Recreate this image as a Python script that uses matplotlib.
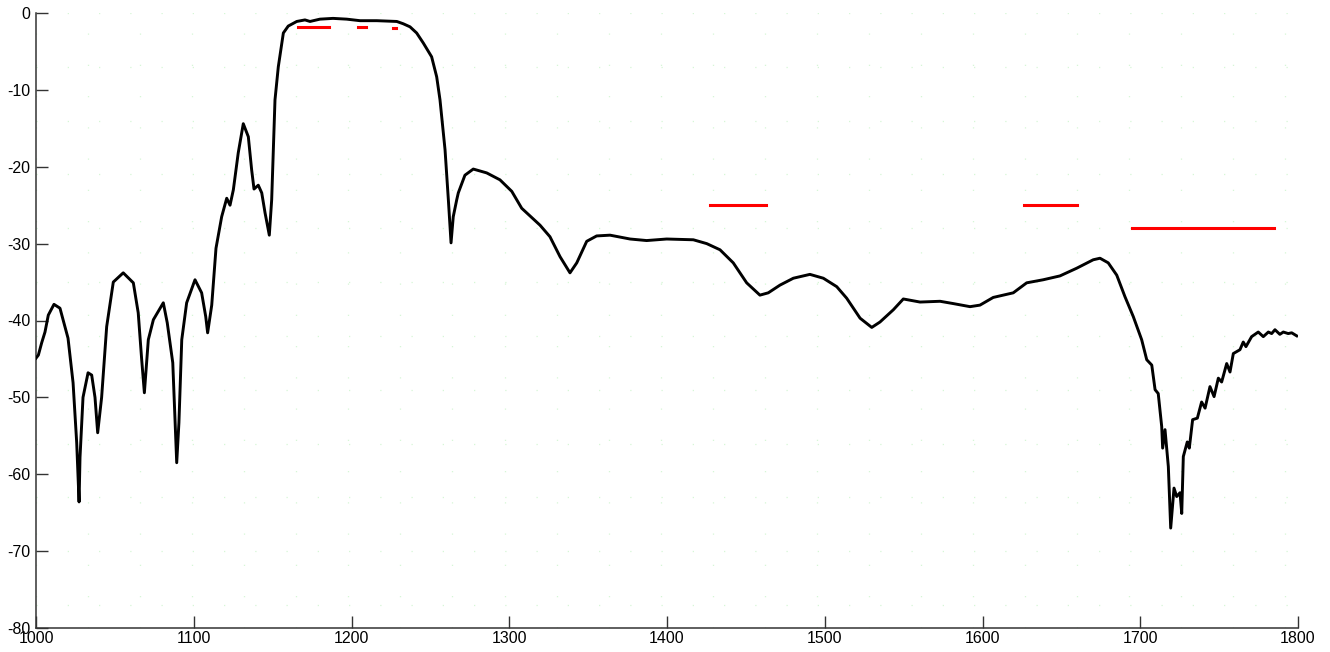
import matplotlib
matplotlib.use('Agg')
import matplotlib.pyplot as plt

freq = [1000.0, 1001.5, 1003.6, 1005.7, 1007.8, 1011.4, 1015.2, 1020.3, 1023.5, 1025.8,
        1027.3, 1027.9, 1029.8, 1033.0, 1035.3, 1037.4, 1039.1, 1041.6, 1044.8, 1049.0,
        1055.3, 1061.7, 1064.8, 1067.0, 1068.7, 1071.2, 1074.4, 1080.7, 1083.2, 1086.7,
        1089.2, 1090.6, 1092.4, 1095.5, 1100.8, 1105.0, 1107.6, 1108.8, 1111.4, 1114.1,
        1117.7, 1120.9, 1123.0, 1125.1, 1128.2, 1131.4, 1134.6, 1136.7, 1138.2, 1140.9,
        1143.1, 1145.2, 1147.9, 1149.4, 1151.5, 1153.6, 1156.8, 1159.9, 1165.3, 1170.5,
        1173.7, 1180.0, 1188.3, 1197.0, 1205.4, 1216.0, 1228.7, 1232.8, 1237.1, 1241.3,
        1245.5, 1250.8, 1254.0, 1256.1, 1259.3, 1261.4, 1263.1, 1264.5, 1266.7, 1267.7,
        1271.9, 1277.2, 1285.7, 1294.1, 1301.6, 1307.9, 1319.5, 1325.8, 1332.2, 1338.5,
        1342.8, 1349.1, 1355.4, 1363.9, 1376.6, 1387.1, 1399.8, 1416.7, 1425.2, 1433.6,
        1442.0, 1450.5, 1458.9, 1464.2, 1471.6, 1480.1, 1490.6, 1499.1, 1507.6, 1513.9,
        1522.4, 1529.8, 1535.0, 1543.5, 1549.8, 1560.4, 1573.1, 1581.5, 1592.1, 1598.4,
        1606.8, 1619.5, 1628.0, 1638.5, 1649.1, 1659.7, 1670.2, 1674.5, 1679.7, 1685.1,
        1690.3, 1695.6, 1700.9, 1704.1, 1707.3, 1709.4, 1711.4, 1713.6, 1714.2, 1715.7,
        1717.8, 1719.3, 1721.4, 1723.1, 1725.2, 1726.3, 1727.3, 1729.8, 1731.1, 1733.2,
        1736.2, 1738.9, 1741.1, 1744.2, 1746.8, 1749.5, 1751.6, 1754.8, 1756.9, 1759.0,
        1763.2, 1765.3, 1767.0, 1770.6, 1774.8, 1778.0, 1781.2, 1783.3, 1785.4, 1788.5,
        1790.7, 1793.8, 1796.0, 1799.2]
level = [-44.9, -44.5, -42.9, -41.5, -39.3, -37.9, -38.4, -42.3, -48.1, -55.9,
         -63.6, -57.8, -50.0, -46.8, -47.1, -50.0, -54.6, -50.0, -40.8, -35.0,
         -33.8, -35.1, -39.0, -45.1, -49.4, -42.5, -39.9, -37.7, -40.3, -45.5,
         -58.5, -53.3, -42.5, -37.7, -34.7, -36.4, -39.5, -41.6, -38.0, -30.6,
         -26.5, -24.1, -25.0, -23.0, -18.2, -14.4, -16.1, -20.4, -22.9, -22.4,
         -23.4, -26.0, -28.9, -24.3, -11.3, -7.0, -2.6, -1.7, -1.1, -0.9,
         -1.1, -0.8, -0.7, -0.8, -1.0, -1.0, -1.1, -1.4, -1.8, -2.6,
         -3.9, -5.7, -8.3, -11.3, -17.8, -24.3, -29.9, -26.5, -24.3, -23.4,
         -21.1, -20.3, -20.8, -21.7, -23.2, -25.4, -27.6, -29.1, -31.7, -33.8,
         -32.5, -29.7, -29.0, -28.9, -29.4, -29.6, -29.4, -29.5, -30.0, -30.8,
         -32.5, -35.1, -36.7, -36.4, -35.4, -34.5, -34.0, -34.5, -35.6, -37.1,
         -39.7, -40.9, -40.2, -38.6, -37.2, -37.6, -37.5, -37.8, -38.2, -38.0,
         -37.0, -36.4, -35.1, -34.7, -34.2, -33.2, -32.1, -31.9, -32.5, -34.1,
         -36.9, -39.5, -42.5, -45.1, -45.8, -49.0, -49.5, -53.8, -56.6, -54.2,
         -59.0, -67.0, -61.8, -62.9, -62.4, -65.1, -57.7, -55.8, -56.6, -52.9,
         -52.7, -50.6, -51.4, -48.6, -49.9, -47.5, -48.0, -45.6, -46.7, -44.3,
         -43.8, -42.8, -43.4, -42.1, -41.5, -42.1, -41.5, -41.7, -41.2, -41.8,
         -41.5, -41.7, -41.6, -42.0]

# spec limit segments: (start, stop, level)
mask_start = [1166, 1204, 1226, 1427, 1626, 1695]
mask_stop = [1186, 1209, 1228, 1463, 1660, 1785]
mask_level = [-1.8, -1.8, -2.0, -25, -25, -28]

xticks = [1000, 1100, 1200, 1300, 1400, 1500, 1600, 1700, 1800]
yticks = [0, -10, -20, -30, -40, -50, -60, -70, -80]

plt.rcParams['font.family'] = ['Liberation Sans', 'DejaVu Sans']
plt.rcParams['axes.unicode_minus'] = False

fig = plt.figure(figsize=(13.3, 6.52), dpi=100)
ax = fig.add_axes([36 / 1330, 24 / 652, 1262 / 1330, 615 / 652])

# faint dotted grid
for gx in range(1000, 1801, 33):
    ax.axvline(gx, color='#d6f7d6', lw=0.9, ls=(0, (1, 24)), zorder=0)
for gy in range(0, -81, -7):
    ax.axhline(gy, color='#d6f7d6', lw=0.9, ls=(0, (1, 24)), zorder=0)

ax.plot(freq, level, color='black', lw=2.1, zorder=3, solid_joinstyle='round')
for x0, x1, lv in zip(mask_start, mask_stop, mask_level):
    ax.plot([x0, x1], [lv, lv], color='#ff0000', lw=2.2, zorder=4)

ax.set_xlim(1000, 1800)
ax.set_ylim(-80, 0)
ax.set_xticks(xticks)
ax.set_yticks(yticks)

ax.spines['top'].set_visible(False)
ax.spines['right'].set_visible(False)
ax.spines['left'].set_color('#333333')
ax.spines['bottom'].set_color('#333333')
ax.spines['left'].set_linewidth(1.1)
ax.spines['bottom'].set_linewidth(1.1)
ax.tick_params(direction='in', length=8.5, width=1.0, color='#333333',
               labelsize=11.5, labelcolor='black')
ax.tick_params(axis='x', pad=2)
ax.tick_params(axis='y', pad=4)

fig.savefig('out.png', dpi=100, facecolor='white')
plt.close(fig)
